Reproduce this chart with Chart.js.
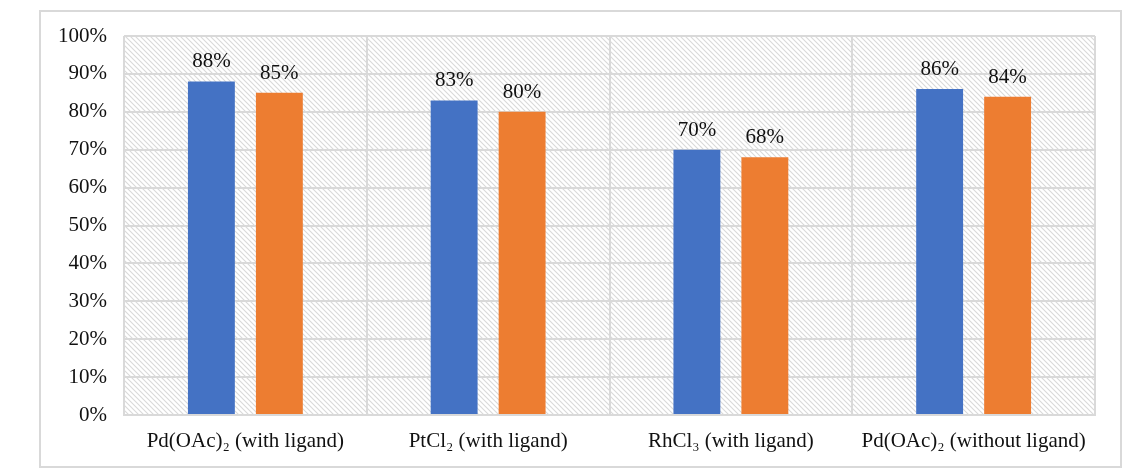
<!DOCTYPE html>
<html><head><meta charset="utf-8">
<script src="https://cdn.jsdelivr.net/npm/chart.js@4/dist/chart.umd.min.js"></script>
<style>
html,body{margin:0;padding:0;background:#fff;}
#box{position:absolute;left:39px;top:10px;width:1083px;height:458px;border:2px solid #d9d9d9;box-sizing:border-box;}
#wrap{position:absolute;left:0;top:0;width:1079px;height:454px;}
</style></head>
<body>
<div id="box"><div id="wrap"><canvas id="c"></canvas></div></div>
<script>
const categories = ["Pd(OAc)₂ (with ligand)", "PtCl₂ (with ligand)", "RhCl₃ (with ligand)", "Pd(OAc)₂ (without ligand)"];
const seriesA = [88, 83, 70, 86];
const seriesB = [85, 80, 68, 84];
const yTicks = [0,10,20,30,40,50,60,70,80,90,100];

const FONT = "'Liberation Serif', 'Times New Roman', serif";

function makePattern(){
  const p = document.createElement('canvas');
  p.width = 5; p.height = 5;
  const g = p.getContext('2d');
  g.fillStyle = '#ffffff'; g.fillRect(0,0,5,5);
  g.strokeStyle = '#d9d9d9'; g.lineWidth = 1.1;
  g.beginPath();
  g.moveTo(-1,-1); g.lineTo(6,6);
  g.moveTo(-1,4); g.lineTo(1,6);
  g.moveTo(4,-1); g.lineTo(6,1);
  g.stroke();
  return g.createPattern(p,'repeat');
}

const bgPlugin = {
  id:'hatch',
  beforeDraw(chart){
    const {ctx, chartArea:a} = chart;
    ctx.save();
    ctx.fillStyle = makePattern();
    ctx.fillRect(a.left, a.top, a.right-a.left, a.bottom-a.top);
    ctx.restore();
  }
};
const labelPlugin = {
  id:'vals',
  afterDatasetsDraw(chart){
    const ctx = chart.ctx;
    ctx.save();
    ctx.font = "21px " + FONT;
    ctx.fillStyle = '#111111';
    ctx.textAlign = 'center';
    ctx.textBaseline = 'bottom';
    chart.data.datasets.forEach((ds,i)=>{
      chart.getDatasetMeta(i).data.forEach((el,j)=>{
        ctx.fillText(ds.data[j] + '%', el.x, el.y - 9);
      });
    });
    ctx.restore();
  }
};

new Chart(document.getElementById('c'), {
  type:'bar',
  data:{
    labels: categories,
    datasets:[
      {label:'A', data: seriesA, backgroundColor:'#4472C4', categoryPercentage:0.56, barPercentage:0.69},
      {label:'B', data: seriesB, backgroundColor:'#ED7D31', categoryPercentage:0.56, barPercentage:0.69}
    ]
  },
  options:{
    responsive:true, maintainAspectRatio:false, animation:false,
    devicePixelRatio:1,
    layout:{padding:{left:0,right:25,top:24,bottom:0}},
    plugins:{legend:{display:false}, tooltip:{enabled:false}},
    scales:{
      x:{
        grid:{display:true, offset:true, color:'#d9d9d9', lineWidth:2, drawTicks:false},
        border:{display:true, color:'#d9d9d9', width:2},
        ticks:{font:{family:FONT,size:21}, color:'#111111', padding:14, maxRotation:0},
        afterFit(s){ s.height = 51; s.paddingLeft = 0; s.paddingRight = 0; }
      },
      y:{
        min:0, max:100,
        grid:{color:'#d9d9d9', lineWidth:2, drawTicks:false},
        border:{display:false},
        afterBuildTicks(s){ s.ticks = yTicks.map(v=>({value:v})); },
        ticks:{font:{family:FONT,size:21}, color:'#111111', padding:17, callback:v=>v+'%'},
        afterFit(s){ s.width = 83; s.paddingTop = 0; s.paddingBottom = 0; }
      }
    }
  },
  plugins:[bgPlugin, labelPlugin]
});
</script>
</body></html>
